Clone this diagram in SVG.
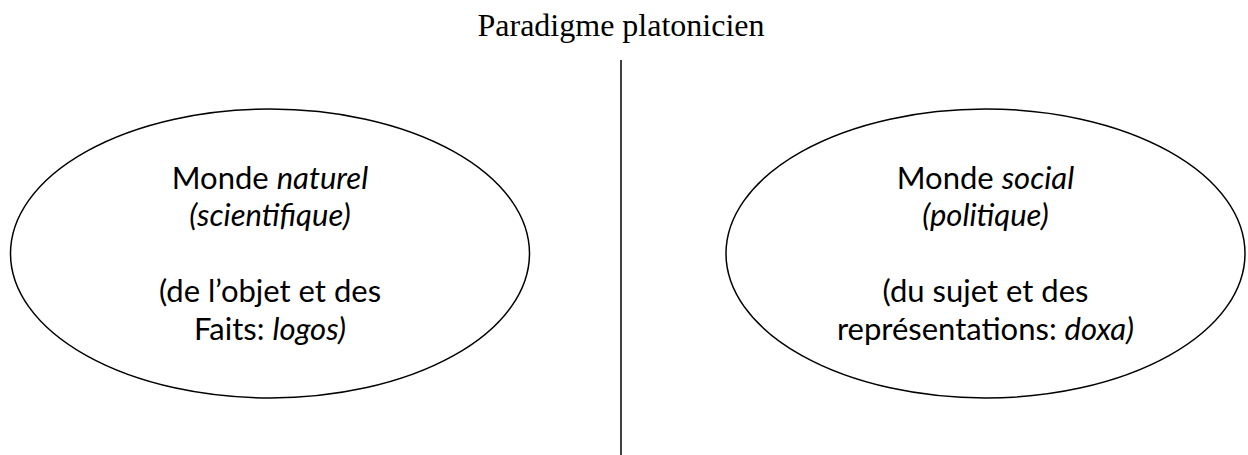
<svg xmlns="http://www.w3.org/2000/svg" width="1248" height="455" viewBox="0 0 1248 455">
<style>
.title{font-family:"Liberation Serif","Times New Roman",serif;font-size:32px;fill:#000;text-anchor:middle}
.t{font-family:Lato,"Liberation Sans",sans-serif;font-size:31px;fill:#000;text-anchor:middle}
.i{font-style:italic}
.shape{fill:none;stroke:#000;stroke-width:1.5}
</style>
<rect width="1248" height="455" fill="#fff"/>
<text id="title" class="title" x="621" y="36">Paradigme platonicien</text>
<g id="connectors">
<line class="shape" x1="621" y1="60" x2="621" y2="455"/>
</g>
<g id="node-naturel">
<ellipse class="shape" cx="270" cy="253.5" rx="259.5" ry="144.5"/>
<text class="t" x="270" y="189">Monde <tspan class="i">naturel</tspan></text>
<text class="t i" x="270" y="226">(scientifique)</text>
<text class="t" x="270" y="302">(de l’objet et des</text>
<text class="t" x="270" y="340">Faits: <tspan class="i">logos)</tspan></text>
</g>
<g id="node-social">
<ellipse class="shape" cx="985.5" cy="253.5" rx="259.5" ry="144.5"/>
<text class="t" x="985.5" y="189">Monde <tspan class="i">social</tspan></text>
<text class="t i" x="985.5" y="226">(politique)</text>
<text class="t" x="985.5" y="302">(du sujet et des</text>
<text class="t" x="985.5" y="340">représentations: <tspan class="i">doxa)</tspan></text>
</g>
</svg>
